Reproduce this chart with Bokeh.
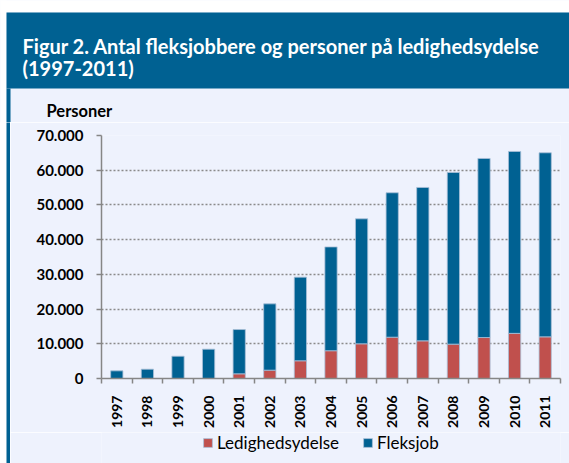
from bokeh.plotting import figure
from bokeh.layouts import column, row
from bokeh.models import (FixedTicker, BoxAnnotation, Label, Legend, LegendItem,
                          ColumnDataSource, Range1d)
from bokeh.embed import file_html
from bokeh.resources import INLINE
import math

years = ["1997", "1998", "1999", "2000", "2001", "2002", "2003", "2004",
         "2005", "2006", "2007", "2008", "2009", "2010", "2011"]
ledighedsydelse = [0, 0, 0, 0, 1350, 2400, 5100, 8000, 10000, 11900, 10850,
                   9900, 11800, 13000, 12000]
fleksjob = [2200, 2680, 6420, 8450, 12750, 19100, 24100, 29900, 36000, 41600,
            44180, 49450, 51580, 52400, 53020]
y_ticks = [0, 10000, 20000, 30000, 40000, 50000, 60000, 70000]
y_tick_labels = ["0", "10.000", "20.000", "30.000", "40.000", "50.000",
                 "60.000", "70.000"]
title_line1 = "Figur 2. Antal fleksjobbere og personer på ledighedsydelse"
title_line2 = "(1997-2011)"
y_title = "Personer"
series = ["Ledighedsydelse", "Fleksjob"]

RED = "#c0504d"
BLUE = "#006192"
BG = "#eef2fd"
FONT = "Lato"

W, H = 569, 463
HEAD_H = 122                 # heading strip (title box + "Personer")
LEG_H = 31                   # legend strip at the bottom
MAIN_H = H - HEAD_H - LEG_H  # chart strip
STRIPE = 10                  # left white margin + blue stripe
FL, FR, FT, FB = 101, 560, 135, 378  # frame edges on the full canvas


def screen_box(fig, fig_h, x0, x1, y0, y1, color):
    """Box given in the figure's canvas pixels (top-left origin)."""
    fig.add_layout(BoxAnnotation(left=x0, right=x1, top=fig_h - y0,
                                 bottom=fig_h - y1,
                                 left_units="screen", right_units="screen",
                                 top_units="screen", bottom_units="screen",
                                 fill_color=color, fill_alpha=1,
                                 line_color=None))


# ---------- heading figure ----------
hd = figure(width=W, height=HEAD_H, output_backend="svg", toolbar_location=None,
            x_axis_location=None, y_axis_location=None,
            x_range=Range1d(0, 1), y_range=Range1d(0, 1), min_border=0)
hd.background_fill_color = BG
hd.border_fill_color = BG
hd.outline_line_color = None
hd.grid.grid_line_color = None

screen_box(hd, HEAD_H, -2, W + 2, -2, 12, "white")
screen_box(hd, HEAD_H, -2, 6, -2, HEAD_H + 2, "white")
screen_box(hd, HEAD_H, 6, W + 2, 12, 88, BLUE)
screen_box(hd, HEAD_H, 6, 10, 88, HEAD_H + 2, BLUE)

hd.add_layout(Label(x=22, y=HEAD_H - 45.5, x_units="screen", y_units="screen",
                    text=title_line1, text_font=FONT, text_font_style="bold",
                    text_font_size="20px", text_color="white",
                    text_baseline="middle", text_align="left"))
hd.add_layout(Label(x=22, y=HEAD_H - 67, x_units="screen", y_units="screen",
                    text=title_line2, text_font=FONT, text_font_style="bold",
                    text_font_size="20px", text_color="white",
                    text_baseline="middle", text_align="left"))
hd.add_layout(Label(x=46, y=HEAD_H - 110.5, x_units="screen", y_units="screen",
                    text=y_title, text_font=FONT, text_font_style="bold",
                    text_font_size="16.5px", text_color="black",
                    text_baseline="middle", text_align="left"))

# ---------- left stripe ----------
st = figure(width=STRIPE, height=MAIN_H + LEG_H, output_backend="svg",
            toolbar_location=None, x_axis_location=None, y_axis_location=None,
            x_range=Range1d(0, 1), y_range=Range1d(0, 1),
            min_border_left=6, min_border_top=0, min_border_right=0,
            min_border_bottom=0)
st.background_fill_color = BLUE
st.border_fill_color = "white"
st.outline_line_color = None
st.grid.grid_line_color = None

# ---------- main chart ----------
xs = [i + 0.5 for i in range(len(years))]
src = ColumnDataSource(dict(x=xs, year=years, Ledighedsydelse=ledighedsydelse,
                            Fleksjob=fleksjob))

p = figure(width=W - STRIPE, height=MAIN_H, output_backend="svg",
           toolbar_location=None,
           x_range=Range1d(0, len(years)), y_range=Range1d(0, 70000),
           min_border_left=FL - STRIPE, min_border_right=W - FR,
           min_border_top=FT - HEAD_H, min_border_bottom=H - LEG_H - FB)
p.background_fill_color = BG
p.border_fill_color = BG
p.outline_line_color = None

rs = p.vbar_stack(series, x="x", width=0.4, source=src, color=[RED, BLUE],
                  line_color="#a9c0d8", line_width=0.8)

yax = p.yaxis[0]
yax.ticker = FixedTicker(ticks=y_ticks, minor_ticks=[])
yax.major_label_overrides = {t: l for t, l in zip(y_ticks, y_tick_labels)}
yax.axis_line_color = "#868686"
yax.axis_line_width = 1.5
yax.major_tick_line_color = "#868686"
yax.major_tick_line_width = 1.5
yax.major_tick_in = 0
yax.major_tick_out = 5
yax.minor_tick_line_color = None
yax.major_label_standoff = 13
yax.major_label_text_font = FONT
yax.major_label_text_font_style = "bold"
yax.major_label_text_font_size = "15px"
yax.major_label_text_color = "black"

xax = p.xaxis[0]
xax.ticker = FixedTicker(ticks=xs, minor_ticks=list(range(len(years) + 1)))
xax.major_label_overrides = {x: y for x, y in zip(xs, years)}
xax.axis_line_color = "#868686"
xax.axis_line_width = 1.5
xax.major_tick_line_color = None
xax.minor_tick_line_color = "#868686"
xax.minor_tick_line_width = 1.5
xax.minor_tick_in = 0
xax.minor_tick_out = 5
xax.major_label_orientation = math.pi / 2
xax.major_label_standoff = 11
xax.major_label_text_font = FONT
xax.major_label_text_font_style = "bold"
xax.major_label_text_font_size = "14px"
xax.major_label_text_color = "black"

p.xgrid.grid_line_color = None
p.ygrid.ticker = FixedTicker(ticks=y_ticks)
p.ygrid.grid_line_color = "#8a8a8a"
p.ygrid.grid_line_dash = "2 2"
p.ygrid.grid_line_width = 1.5

# ---------- legend strip ----------
# (its frame is aligned with the chart frame above, left edge at canvas x=101)
lg = figure(width=W - STRIPE, height=LEG_H, output_backend="svg",
            toolbar_location=None, x_axis_location=None, y_axis_location=None,
            x_range=Range1d(0, len(years)), y_range=Range1d(0, 70000),
            min_border=0)
lg.background_fill_color = BG
lg.border_fill_color = BG
lg.outline_line_color = None
lg.grid.grid_line_color = None
lrs = lg.vbar_stack(series, x="x", width=0.4, source=src, color=[RED, BLUE],
                    line_color="#a9c0d8", line_width=0.8)
for r in lrs:
    r.visible = False

for s, r, gx in zip(series, lrs, [202, 362]):
    lg.add_layout(Legend(items=[LegendItem(label=s, renderers=[r])],
                         location=(gx - FL, LEG_H - 21), orientation="horizontal",
                         padding=0, margin=0, spacing=0,
                         glyph_width=11, glyph_height=11, label_standoff=4,
                         label_height=18, label_text_font=FONT,
                         label_text_font_size="17px", label_text_color="black",
                         border_line_color=None, background_fill_alpha=0,
                         inactive_fill_alpha=0), "center")

layout = column(hd, row(st, column(p, lg, spacing=0), spacing=0), spacing=0)
open("out.html", "w").write(file_html(layout, INLINE))
